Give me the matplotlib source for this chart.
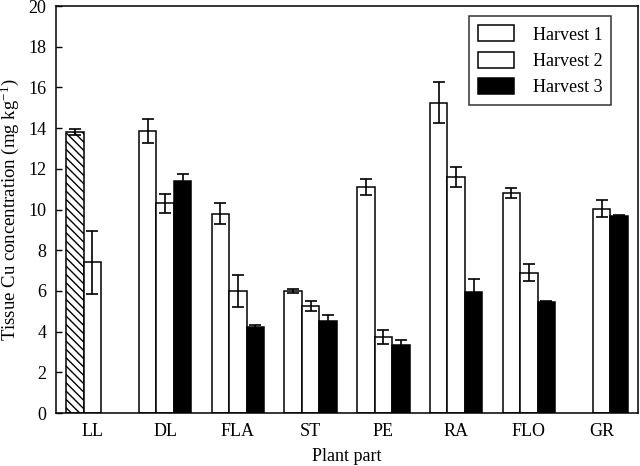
import numpy as np
import matplotlib
matplotlib.use("Agg")
import matplotlib.pyplot as plt

plt.rcParams['font.family'] = ['Liberation Serif', 'DejaVu Serif']
plt.rcParams['mathtext.fontset'] = 'custom'
plt.rcParams['mathtext.rm'] = 'Liberation Serif'
plt.rcParams['mathtext.it'] = 'Liberation Serif:italic'
plt.rcParams['hatch.linewidth'] = 1.0

# partes da planta e valores por colheita (nan = sem barra)
partes = ['LL', 'DL', 'FLA', 'ST', 'PE', 'RA', 'FLO', 'GR']
h1 = [13.8, 13.85, 9.8, 6.0, 11.1, 15.25, 10.8, np.nan]
h1_err = [0.15, 0.6, 0.5, 0.1, 0.4, 1.0, 0.25, np.nan]
h2 = [7.4, 10.3, 6.0, 5.25, 3.75, 11.6, 6.9, 10.05]
h2_err = [1.55, 0.45, 0.8, 0.25, 0.35, 0.5, 0.4, 0.4]
h3 = [np.nan, 11.4, 4.25, 4.5, 3.35, 5.95, 5.45, 9.68]
h3_err = [np.nan, 0.35, 0.1, 0.3, 0.25, 0.65, 0.05, 0.05]

x = np.arange(len(partes))
w = 0.24

fig = plt.figure(figsize=(6.4, 4.66), dpi=100)
ax = fig.add_axes([0.0875, 0.1137, 0.9095, 0.8733])

eb = dict(ecolor='black', elinewidth=1.2, capsize=4.5, capthick=1.2)

# LL harvest 1 hachurada, resto branco
hatches = ['\\\\\\\\'] + [''] * (len(partes) - 1)
b1 = ax.bar(x - w, h1, w, yerr=h1_err, color='white', edgecolor='black',
            linewidth=1.1, error_kw=eb, label='Harvest 1')
for b, hh in zip(b1, hatches):
    b.set_hatch(hh)
ax.bar(x, h2, w, yerr=h2_err, color='white', edgecolor='black',
       linewidth=1.1, error_kw=eb, label='Harvest 2')
ax.bar(x + w, h3, w, yerr=h3_err, color='black', edgecolor='black',
       linewidth=1.1, error_kw=eb, label='Harvest 3')

ax.set_xlim(-0.5, 7.5)
ax.set_ylim(0, 20)
ax.set_yticks(range(0, 21, 2))
ax.set_xticks(x)
ax.set_xticklabels(partes)
ax.tick_params(axis='y', direction='in', length=4, width=1, labelsize=13, pad=7)
ax.tick_params(axis='x', length=0, labelsize=13, pad=7)
for s in ax.spines.values():
    s.set_linewidth(1.1)

ax.set_xlabel('Plant part', fontsize=13, labelpad=6)
ax.set_ylabel(r'Tissue Cu concentration (mg kg$^{-1}$)', fontsize=13.5, labelpad=5)

leg = ax.legend(loc='upper right', bbox_to_anchor=(0.954, 0.975), fontsize=13,
                frameon=True, fancybox=False, edgecolor='black',
                handlelength=2.0, handleheight=1.0, labelspacing=0.45,
                borderpad=0.5, handletextpad=1.0, borderaxespad=0)
leg.get_frame().set_linewidth(1.1)
leg.legend_handles[0].set_hatch('')

fig.savefig('out.png', dpi=100)
